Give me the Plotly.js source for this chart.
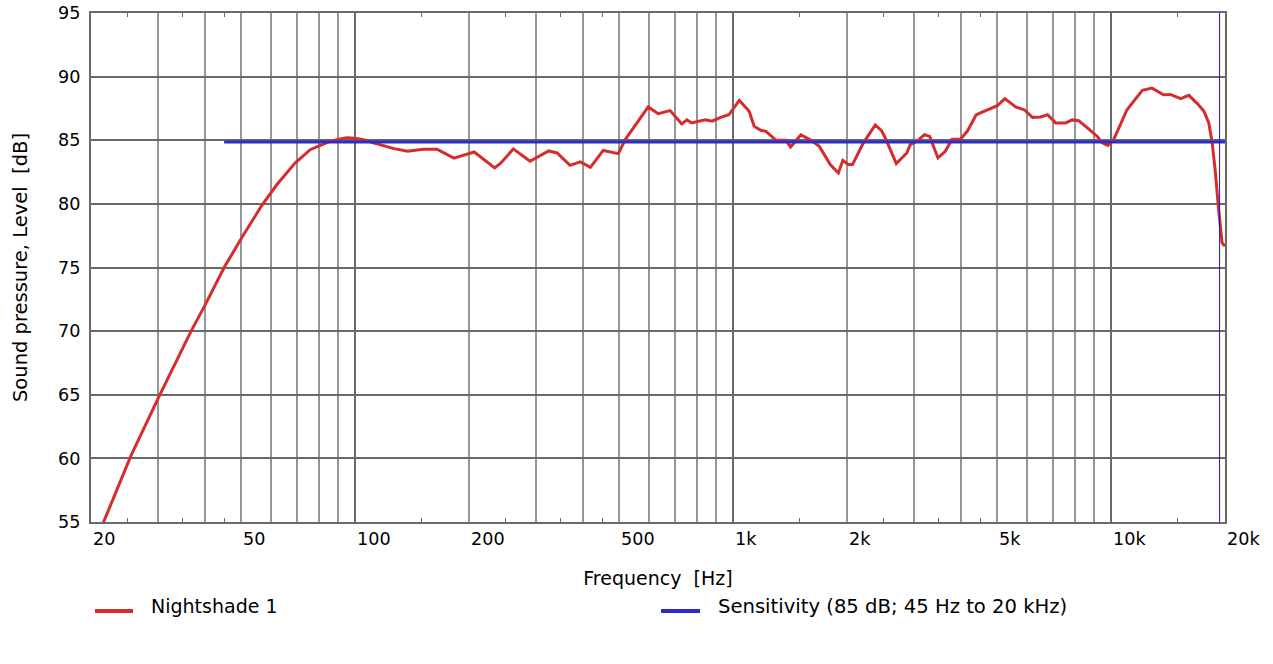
<!DOCTYPE html>
<html><head><meta charset="utf-8">
<script src="https://cdn.plot.ly/plotly-3.0.1.min.js"></script>
<style>html,body{margin:0;padding:0;background:#fff}#chart{width:1273px;height:664px}</style>
</head><body><div id="chart"></div>
<script>
// ---- data ----
const freqHz = [20,21.6,25.5,30.3,36.8,40,45,50,56.4,62,69.3,76,80.8,85.4,89.3,95,100,105,111.6,116,126.6,137.6,151.3,164.6,182.4,206.5,233.8,241.8,262,290,325,342,370,394,419,453,497,518,556,596,633,681,731,754,776,818,843,880,926,974,1038,1102,1136,1183,1221,1298,1377,1418,1510,1595,1690,1806,1898,1950,2014,2068,2210,2376,2465,2526,2700,2880,2940,3060,3205,3310,3480,3640,3792,3990,4160,4284,4392,4508,4740,4996,5232,5588,5888,6192,6505,6784,7132,7580,7880,8200,8652,9186,9470,9800,10150,10570,11010,11600,12090,12820,13750,14320,15280,16050,16900,17600,18120,18500,18870,19200,19650,20000];
const levelDb = [52.6,55.0,60.2,64.9,70.0,72.0,75.0,77.3,79.8,81.5,83.2,84.26,84.6,84.9,85.05,85.2,85.15,85.05,84.8,84.66,84.34,84.13,84.3,84.3,83.6,84.08,82.83,83.16,84.32,83.35,84.16,84.0,83.03,83.3,82.87,84.2,83.95,85.05,86.36,87.62,87.09,87.33,86.28,86.6,86.36,86.49,86.6,86.5,86.8,87.0,88.14,87.27,86.1,85.78,85.7,85.0,85.0,84.47,85.42,85.05,84.52,83.09,82.43,83.42,83.09,83.09,84.8,86.2,85.78,85.18,83.16,84.0,84.66,84.92,85.43,85.3,83.61,84.13,85.07,85.07,85.7,86.4,87.0,87.15,87.45,87.72,88.27,87.62,87.4,86.8,86.83,87.0,86.36,86.36,86.6,86.54,85.97,85.3,84.8,84.6,85.05,86.23,87.4,88.25,88.92,89.1,88.58,88.6,88.27,88.53,87.88,87.27,86.36,84.8,82.43,79.8,76.94,76.67];
const sensitivityFreq = [45, 20000];
const sensitivityLevel = [84.87, 84.87];
const cursorFreq = [19350, 19350];
const cursorLevel = [55, 95];
const seriesNames = ['Nightshade 1', 'Sensitivity (85 dB; 45 Hz to 20 kHz)'];
const xTickVals = [20,50,100,200,500,1000,2000,5000,10000,20000];
const xTickText = ['20','50','100','200','500','1k','2k','5k','10k','20k'];
const yTickVals = [55,60,65,70,75,80,85,90,95];
const decadeGrid = [100,1000,10000];
const subGrid = [30,40,50,60,70,80,90,200,300,400,500,600,700,800,900,2000,3000,4000,5000,6000,7000,8000,9000];
const halfTicks = [25,35,45,150,250,350,450,1500,2500,3500,4500,15000];

// ---- styling ----
const RED = 'rgb(214,44,44)';
const BLUE = 'rgb(44,44,206)';
const FONT = 'DejaVu Sans';
const TICK_SIZE = 17.6, TEXT_SIZE = 19;
const PL = 91, PR = 1225, PT = 13, PB = 522;
const pxX = p => (p - PL) / (PR - PL);
const pxY = p => (PB - p) / (PB - PT);

const traces = [
  {x: freqHz, y: levelDb, type: 'scatter', mode: 'lines', name: seriesNames[0],
   line: {color: RED, width: 3}},
  {x: sensitivityFreq, y: sensitivityLevel, type: 'scatter', mode: 'lines', name: seriesNames[1],
   line: {color: BLUE, width: 3}, cliponaxis: false},
  {x: cursorFreq, y: cursorLevel, type: 'scatter', mode: 'lines', xaxis: 'x2', showlegend: false,
   line: {color: 'rgb(20,20,240)', width: 1}}
];

const annotations = xTickVals.map((v, i) => ({
  x: Math.log10(v), xref: 'x', y: 0, yref: 'paper', text: xTickText[i],
  xanchor: 'left', yanchor: 'middle', yshift: -17, showarrow: false,
  font: {family: FONT, size: TICK_SIZE, color: '#000'}
}));
annotations.push(
  {x: pxX(149), xref: 'paper', y: pxY(606), yref: 'paper', text: seriesNames[0],
   xanchor: 'left', yanchor: 'middle', showarrow: false, font: {family: FONT, size: TEXT_SIZE, color: '#000'}},
  {x: pxX(716), xref: 'paper', y: pxY(606), yref: 'paper', text: seriesNames[1],
   xanchor: 'left', yanchor: 'middle', showarrow: false, font: {family: FONT, size: 19.6, color: '#000'}}
);

const shapes = [
  {type: 'line', xref: 'paper', yref: 'paper', x0: pxX(95), x1: pxX(133), y0: pxY(611), y1: pxY(611),
   line: {color: RED, width: 4}},
  {type: 'line', xref: 'paper', yref: 'paper', x0: pxX(661), x1: pxX(700), y0: pxY(611), y1: pxY(611),
   line: {color: BLUE, width: 4}}
];

const xr = [Math.log10(20), Math.log10(20000)];
const layout = {
  width: 1273, height: 664,
  margin: {l: PL, r: 1273 - PR, t: PT, b: 664 - PB, pad: 0},
  paper_bgcolor: '#fff', plot_bgcolor: '#fff',
  font: {family: FONT, size: TICK_SIZE, color: '#000'},
  showlegend: false,
  xaxis: {
    type: 'log', range: xr, fixedrange: true,
    tickmode: 'array', tickvals: decadeGrid, showticklabels: false, ticks: '',
    showgrid: true, gridcolor: 'rgb(105,105,105)', gridwidth: 2,
    minor: {tickmode: 'array', tickvals: subGrid, showgrid: true, gridcolor: 'rgb(150,150,150)', gridwidth: 2, ticks: ''},
    showline: true, mirror: true, linecolor: 'rgb(105,105,105)', linewidth: 2,
    zeroline: false,
    title: {text: 'Frequency\u00a0 [Hz]', font: {family: FONT, size: TEXT_SIZE, color: '#000'}, standoff: 49}
  },
  xaxis2: {
    type: 'log', range: xr, overlaying: 'x', anchor: 'y', fixedrange: true,
    tickmode: 'array', tickvals: halfTicks, ticks: 'inside', ticklen: 4, tickwidth: 1,
    tickcolor: 'rgb(105,105,105)', mirror: 'ticks', showline: true, linecolor: 'rgb(105,105,105)', linewidth: 2,
    showticklabels: false, showgrid: false, zeroline: false
  },
  yaxis: {
    range: [55, 95], fixedrange: true,
    tickmode: 'array', tickvals: yTickVals, ticks: '', ticklabelstandoff: 5,
    showgrid: true, gridcolor: 'rgb(105,105,105)', gridwidth: 2,
    showline: true, mirror: true, linecolor: 'rgb(105,105,105)', linewidth: 2,
    zeroline: false,
    tickfont: {family: FONT, size: TICK_SIZE, color: '#000'},
    title: {text: 'Sound pressure, Level\u00a0 [dB]', font: {family: FONT, size: 19.5, color: '#000'}, standoff: 25}
  },
  annotations: annotations,
  shapes: shapes
};

Plotly.newPlot('chart', traces, layout, {displayModeBar: false, staticPlot: true});
</script>
</body></html>
